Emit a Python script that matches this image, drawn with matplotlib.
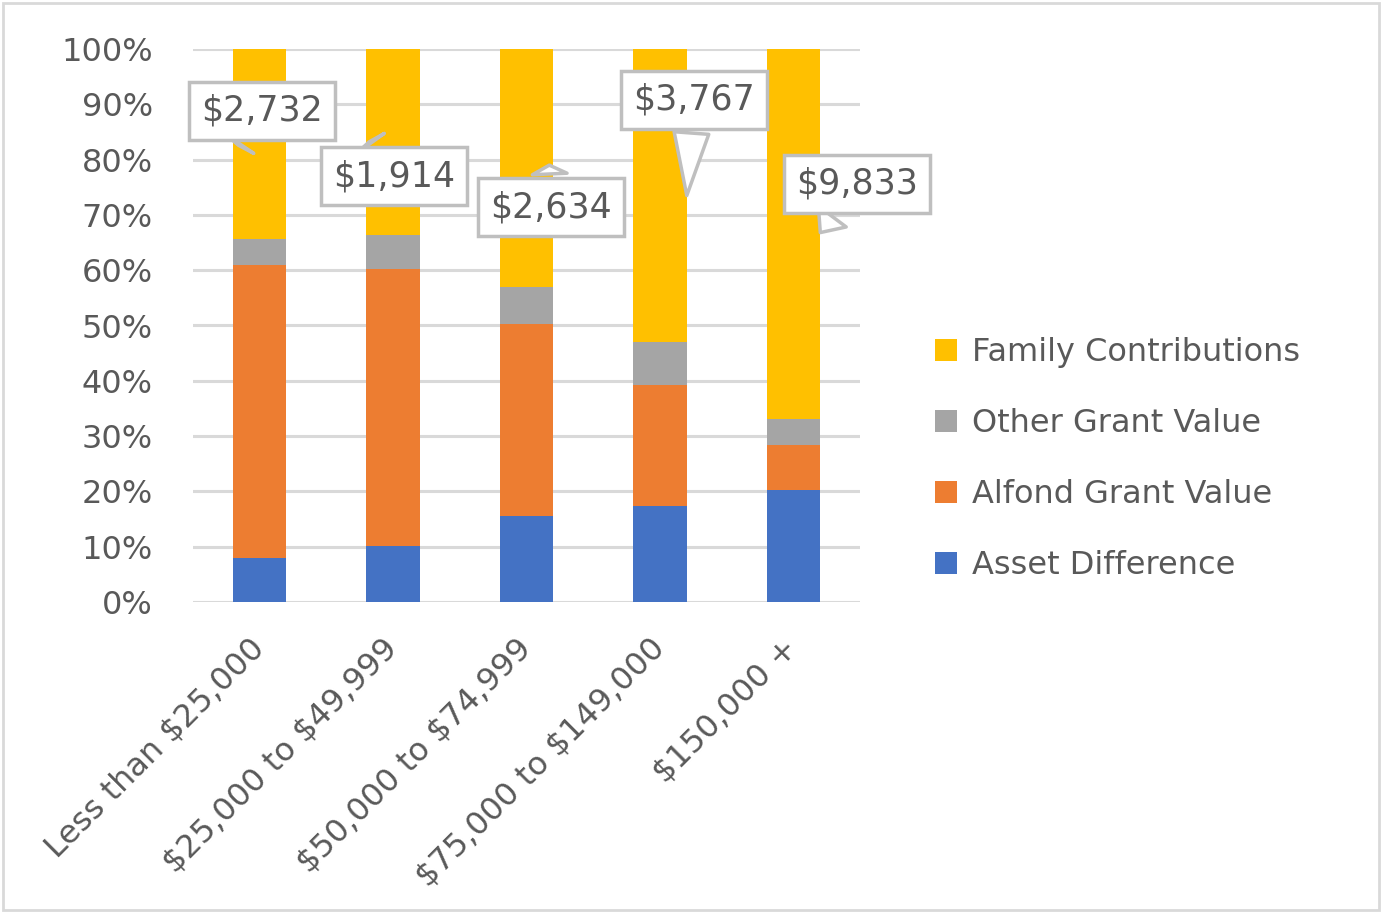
import matplotlib
matplotlib.use("Agg")
import matplotlib.pyplot as plt
import numpy as np
from matplotlib.patches import Rectangle

plt.rcParams['font.family'] = ['DejaVu Sans']
plt.rcParams['text.parse_math'] = False

# categorie di reddito
categories = ["Less than $25,000", "$25,000 to $49,999", "$50,000 to $74,999",
              "$75,000 to $149,000", "$150,000 +"]

# quote percentuali di ogni componente
asset_diff = [7.9, 10.1, 15.6, 17.4, 20.3]
alfond_grant = [53.0, 50.2, 34.7, 21.9, 8.1]
other_grant = [4.8, 6.1, 6.6, 7.7, 4.7]
family_contrib = [34.3, 33.6, 43.1, 53.0, 66.9]

callout_labels = ["$2,732", "$1,914", "$2,634", "$3,767", "$9,833"]

series = [("Asset Difference", asset_diff, "#4472C4"),
          ("Alfond Grant Value", alfond_grant, "#ED7D31"),
          ("Other Grant Value", other_grant, "#A5A5A5"),
          ("Family Contributions", family_contrib, "#FFC000")]

text_col = "#595959"
grid_col = "#D9D9D9"
fs = 23

fig = plt.figure(figsize=(13.82, 9.13), dpi=100)
ax = fig.add_axes([193 / 1382, 1 - 602 / 913, (860 - 193) / 1382, (602 - 49) / 913])

x = np.arange(len(categories))
bottom = np.zeros(len(categories))
handles = []
for name, vals, col in series:
    b = ax.bar(x, vals, width=0.4, bottom=bottom, color=col, label=name, zorder=3)
    handles.append(b)
    bottom += np.array(vals)

ax.set_xlim(-0.5, len(categories) - 0.5)
ax.set_ylim(0, 100)
ax.set_yticks(np.arange(0, 101, 10))
ax.set_yticklabels([f"{v}%" for v in range(0, 101, 10)])
ax.yaxis.grid(True, color=grid_col, linewidth=2.2, zorder=0)
ax.set_axisbelow(True)
for s in ax.spines.values():
    s.set_visible(False)
ax.tick_params(axis='both', length=0, labelsize=fs, labelcolor=text_col)
ax.tick_params(axis='y', pad=29)
ax.set_xticks(x)
ax.set_xticklabels(categories, rotation=45, ha='right', va='center', rotation_mode='anchor')
ax.tick_params(axis='x', pad=30)

# callout: (posizione box, punta)
box_pos = [(0.015, 88.8), (1.005, 77.0), (2.185, 71.4), (3.255, 90.8), (4.475, 75.6)]
tip_pos = [(-0.16, 82.6), (0.82, 83.2), (2.17, 79.5), (3.2, 73.0), (4.19, 66.4)]
for lab, bp, tp in zip(callout_labels, box_pos, tip_pos):
    ax.annotate(lab, xy=tp, xytext=bp, ha='center', va='center',
                fontsize=25, color=text_col, annotation_clip=False, zorder=5,
                bbox=dict(boxstyle='square,pad=0.35', fc='white', ec='#BFBFBF', lw=2.5),
                arrowprops=dict(arrowstyle='wedge,tail_width=1.0,shrink_factor=0.5',
                                fc='white', ec='#BFBFBF', lw=2.5))

leg = fig.legend(handles[::-1], [s[0] for s in series][::-1], loc='center left',
                 bbox_to_anchor=(0.6556, 0.497), frameon=False, fontsize=fs,
                 handlelength=0.7, handleheight=0.7, handletextpad=0.45,
                 labelspacing=1.25)
for t in leg.get_texts():
    t.set_color(text_col)

fig.patches.append(Rectangle((0.002, 0.003), 0.996, 0.994, transform=fig.transFigure,
                             fill=False, ec=grid_col, lw=2))

fig.savefig("out.png", dpi=100, facecolor='white')
